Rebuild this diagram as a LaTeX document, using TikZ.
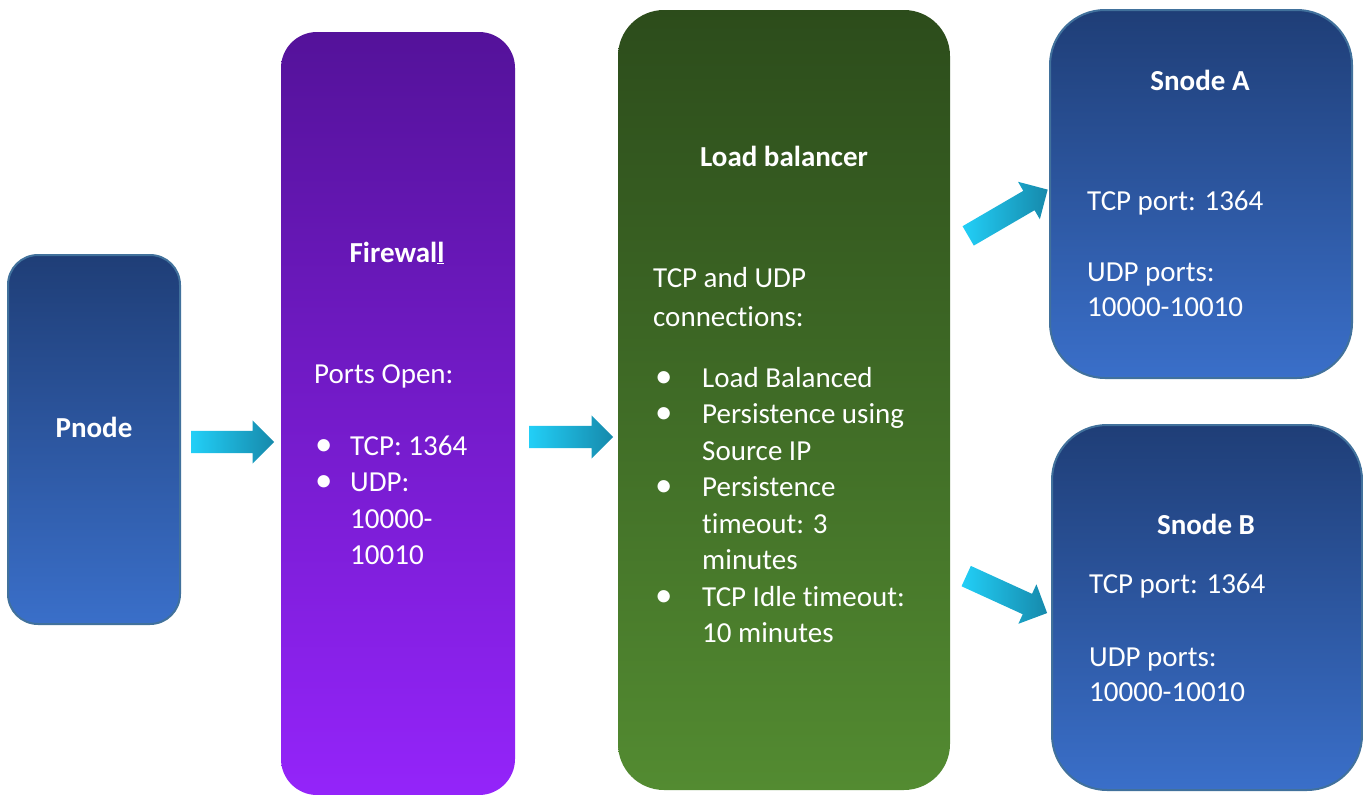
\documentclass[tikz,border=0pt]{standalone}
\usepackage{fontspec}
\setmainfont{Carlito}[Ligatures=NoCommon]
\usetikzlibrary{shapes.arrows, positioning, calc}

\definecolor{bluetop}{HTML}{1F3E77}
\definecolor{bluebot}{HTML}{3A6FC9}
\definecolor{bluerim}{HTML}{41719C}
\definecolor{purtop}{HTML}{54129A}
\definecolor{purbot}{HTML}{9424FA}
\definecolor{grntop}{HTML}{2C4C1B}
\definecolor{grnbot}{HTML}{538B31}
\definecolor{arrtail}{HTML}{22CFF7}
\definecolor{arrtip}{HTML}{1689AB}

% bullet hanging left of a list line
\newcommand{\bul}[1]{\llap{\makebox[#1][l]{\scalebox{1.2}{\textbullet}}}}

\begin{document}
\begin{tikzpicture}[
 x=1pt, y=-1pt,
 box/.style={rectangle, rounded corners=#1, inner sep=0pt},
 bluebox/.style={box=#1, draw=bluerim, line width=2pt, top color=bluetop, bottom color=bluebot},
 title/.style={anchor=base, text=white, inner sep=0pt, font=\bfseries\fontsize{29}{36.5}\selectfont},
 body/.style={anchor=base west, align=left, text=white, inner sep=0pt, font=\fontsize{29}{36.5}\selectfont},
 blockarr/.style={single arrow, single arrow head extend=10.5pt, single arrow tip angle=90,
   single arrow head indent=0pt, inner xsep=0pt, inner ysep=11pt, sloped, pos=0, anchor=tail,
   left color=arrtail, right color=arrtip, minimum height=#1}
]
 \useasboundingbox (0,0) rectangle (1363,795);

 % boxes, left to right
 \node[bluebox=30pt, minimum width=172pt, minimum height=369pt] (pnode) at (94,439.5) {};
 \node[box=36pt, top color=purtop, bottom color=purbot, minimum width=234pt, minimum height=763pt] (fwall) at (398,413.5) {};
 \node[box=46pt, top color=grntop, bottom color=grnbot, minimum width=332pt, minimum height=780pt] (lb) at (784,400) {};
 \node[bluebox=55pt, minimum width=302pt, minimum height=368pt] (snodeA) at (1201,194) {};
 \node[bluebox=55pt, minimum width=310pt, minimum height=365pt] (snodeB) at (1207,607.5) {};

 % Pnode
 \node[title] (pnodeT) at (94,437) {Pnode};

 % Firewall (base of a block = its last line)
 \node[title] (fwallT) at (397,262) {Firewal\underline{l}};
 \node[body] (fwallP) at (314,383) {Ports Open:};
 \node[body] (fwallL) at (350,564.5) {\bul{35pt}TCP: 1364\\ \bul{35pt}UDP:\\ 10000-\\ 10010};

 % Load balancer
 \node[title] (lbT) at (784,166) {Load balancer};
 \node[body, font=\fontsize{29}{39}\selectfont] (lbC) at (653,326) {TCP and UDP\\ connections:};
 \node[body] (lbL) at (702,642.5) {\bul{47pt}Load Balanced\\ \bul{47pt}Persistence using\\ Source IP\\
   \bul{47pt}Persistence\\ timeout: 3\\ minutes\\ \bul{47pt}TCP Idle timeout:\\ 10 minutes};

 % Snodes
 \node[title] (snodeAT) at (1200,90) {Snode A};
 \node[body] (snodeAP) at (1087,210) {TCP port: 1364};
 \node[body, font=\fontsize{29}{35}\selectfont] (snodeAU) at (1087,316) {UDP ports:\\ 10000-10010};
 \node[title] (snodeBT) at (1206,534) {Snode B};
 \node[body] (snodeBP) at (1089,593) {TCP port: 1364};
 \node[body, font=\fontsize{29}{35}\selectfont] (snodeBU) at (1089,701) {UDP ports:\\ 10000-10010};

 % block arrows between the boxes
 \coordinate (a1s) at (191,442);  \coordinate (a1e) at (274,442);
 \coordinate (a2s) at (529,437);  \coordinate (a2e) at (613,437);
 \coordinate (a3s) at (968,236);  \coordinate (a3e) at (1047,190);
 \coordinate (a4s) at (966,576);  \coordinate (a4e) at (1047,613);
 \path (a1s) -- node[blockarr=83pt] (arr1) {} (a1e);
 \path (a2s) -- node[blockarr=84pt] (arr2) {} (a2e);
 \path (a3s) -- node[blockarr=92pt] (arr3) {} (a3e);
 \path (a4s) -- node[blockarr=89pt] (arr4) {} (a4e);
\end{tikzpicture}
\end{document}
